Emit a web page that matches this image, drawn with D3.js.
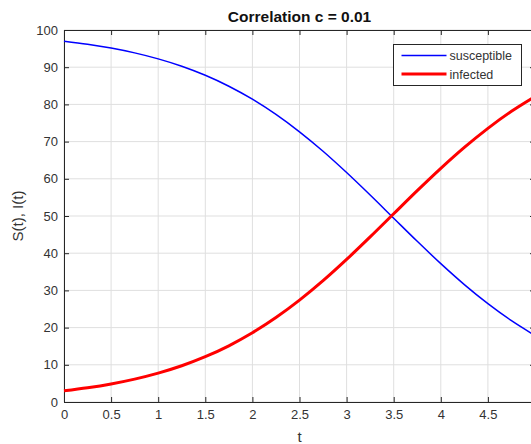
<!DOCTYPE html>
<html>
<head>
<meta charset="utf-8">
<script src="https://cdn.jsdelivr.net/npm/d3@7"></script>
<style>
  body { margin: 0; background: #fff; overflow: hidden; }
  svg { display: block; font-family: Arial, "Liberation Sans", Helvetica, sans-serif; }
  .grid line { stroke: #dfdfdf; stroke-width: 1; }
  .axis text { fill: #333; font-size: 13px; }
  .axis path, .axis line { stroke: #262626; }
</style>
</head>
<body>
<svg id="chart" width="531" height="444"></svg>
<script>
// time samples and the two curves
const tValues = [0, 0.25, 0.5, 0.75, 1, 1.25, 1.5, 1.75, 2, 2.25, 2.5, 2.75, 3, 3.25, 3.5, 3.75, 4, 4.25, 4.5, 4.75, 5];
const susceptible = [97.00, 96.18, 95.15, 93.85, 92.24, 90.26, 87.83, 84.89, 81.40, 77.31, 72.63, 67.40, 61.68, 55.63, 49.40, 43.19, 37.19, 31.56, 26.43, 21.86, 17.89];
const infected = [3.00, 3.82, 4.85, 6.15, 7.76, 9.74, 12.17, 15.11, 18.60, 22.69, 27.37, 32.60, 38.32, 44.37, 50.60, 56.81, 62.81, 68.44, 73.57, 78.14, 82.11];
const xTicks = [0, 0.5, 1, 1.5, 2, 2.5, 3, 3.5, 4, 4.5, 5];
const yTicks = [0, 10, 20, 30, 40, 50, 60, 70, 80, 90, 100];

const margin = { top: 30, left: 64, right: 535, bottom: 402 };

let svg = d3.select("#chart");

let x = d3.scaleLinear().domain([0, 5]).range([margin.left, margin.right]);
let y = d3.scaleLinear().domain([0, 100]).range([margin.bottom, margin.top]);

// grid
let grid = svg.append("g").attr("class", "grid");
grid.selectAll(".gx").data(xTicks).join("line")
  .attr("x1", d => x(d)).attr("x2", d => x(d))
  .attr("y1", margin.top).attr("y2", margin.bottom);
grid.selectAll(".gy").data(yTicks).join("line")
  .attr("x1", margin.left).attr("x2", margin.right)
  .attr("y1", d => y(d)).attr("y2", d => y(d));

// axes, ticks pointing inward like matlab
let fmt = d => String(d);
svg.append("g").attr("class", "axis")
  .attr("transform", "translate(0," + margin.bottom + ")")
  .call(d3.axisBottom(x).tickValues(xTicks).tickFormat(fmt).tickSizeInner(-5).tickSizeOuter(0).tickPadding(8));
svg.append("g").attr("class", "axis")
  .attr("transform", "translate(" + margin.left + ",0)")
  .call(d3.axisLeft(y).tickValues(yTicks).tickFormat(fmt).tickSizeInner(-5).tickSizeOuter(0).tickPadding(6));
svg.append("g").attr("class", "axis")
  .attr("transform", "translate(0," + margin.top + ")")
  .call(d3.axisTop(x).tickValues(xTicks).tickFormat("").tickSizeInner(-5).tickSizeOuter(0));
svg.append("g").attr("class", "axis")
  .attr("transform", "translate(" + margin.right + ",0)")
  .call(d3.axisRight(y).tickValues(yTicks).tickFormat("").tickSizeInner(-5).tickSizeOuter(0));

// curves
let line = (vals) => d3.line()
  .x((d, i) => x(tValues[i]))
  .y(d => y(d))
  .curve(d3.curveMonotoneX)(vals);

let plot = svg.append("g");
plot.append("path").attr("d", line(susceptible))
  .attr("fill", "none").attr("stroke", "#0000ff").attr("stroke-width", 1.5);
plot.append("path").attr("d", line(infected))
  .attr("fill", "none").attr("stroke", "#ff0000").attr("stroke-width", 3);

// title and labels
svg.append("text")
  .attr("x", (margin.left + margin.right) / 2).attr("y", 22)
  .attr("text-anchor", "middle")
  .style("font-size", "15.5px").style("font-weight", "bold").style("fill", "#111")
  .text("Correlation c = 0.01");

svg.append("text")
  .attr("x", (margin.left + margin.right) / 2).attr("y", 442)
  .attr("text-anchor", "middle")
  .style("font-size", "15px").style("fill", "#333")
  .text("t");

svg.append("text")
  .attr("transform", "translate(23," + ((margin.top + margin.bottom) / 2) + ") rotate(-90)")
  .attr("text-anchor", "middle")
  .style("font-size", "15px").style("fill", "#333")
  .text("S(t), I(t)");

// legend
let legend = svg.append("g").attr("transform", "translate(393.5,44.5)");
legend.append("rect")
  .attr("width", 128).attr("height", 41)
  .attr("fill", "#fff").attr("stroke", "#262626").attr("stroke-width", 1);
let items = [
  { label: "susceptible", color: "#0000ff", w: 1.5 },
  { label: "infected", color: "#ff0000", w: 3 }
];
let rows = legend.selectAll(".item").data(items).join("g")
  .attr("transform", (d, i) => "translate(0," + (11 + i * 18.5) + ")");
rows.append("line")
  .attr("x1", 8).attr("x2", 53)
  .attr("stroke", d => d.color).attr("stroke-width", d => d.w);
rows.append("text")
  .attr("x", 56).attr("y", 4.5)
  .style("font-size", "12.5px").style("fill", "#333")
  .text(d => d.label);
</script>
</body>
</html>
